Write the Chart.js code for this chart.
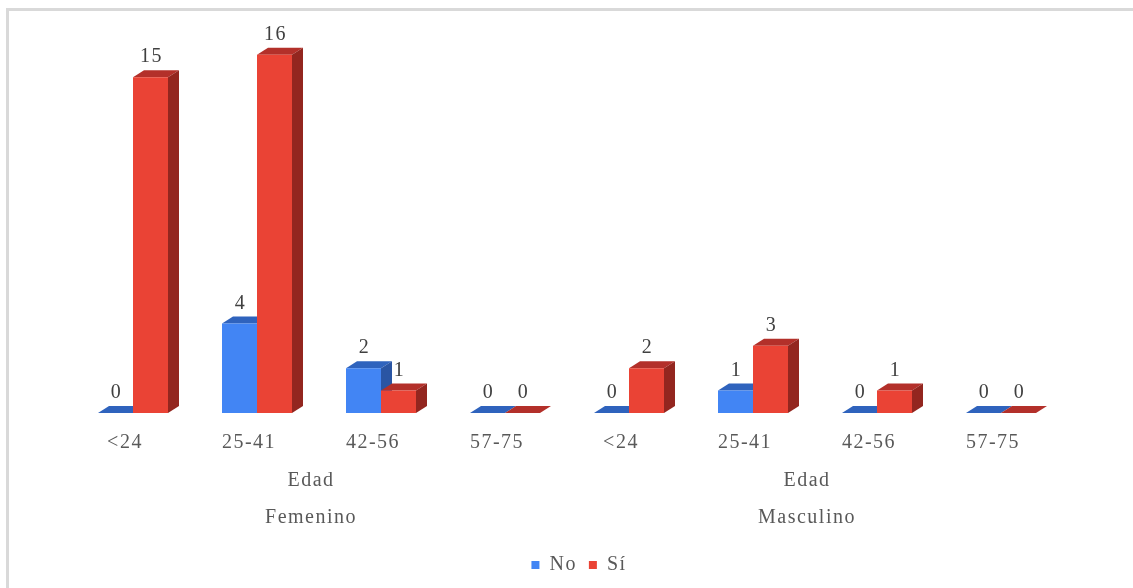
<!DOCTYPE html>
<html>
<head>
<meta charset="utf-8">
<script src="https://cdn.jsdelivr.net/npm/chart.js@4.4.1/dist/chart.umd.min.js"></script>
<style>
  html, body { margin: 0; padding: 0; background: #fff; }
  #wrap { position: relative; width: 1133px; height: 588px; overflow: hidden; }
  #frame { position: absolute; left: 6px; top: 8px; width: 1200px; height: 700px;
           border-left: 3px solid #d9d9d9; border-top: 3px solid #d9d9d9; }
  canvas { position: absolute; left: 0; top: 0; }
</style>
</head>
<body>
<div id="wrap">
  <div id="frame"></div>
  <canvas id="c" width="1133" height="588"></canvas>
</div>
<script>
// Age brackets, repeated for each sex
const ageGroups = ['<24', '25-41', '42-56', '57-75', '<24', '25-41', '42-56', '57-75'];
const sexGroups = ['Femenino', 'Masculino'];
const groupAxisTitle = 'Edad';
const seriesNames = ['No', 'Sí'];
const noValues = [0, 4, 2, 0, 0, 1, 0, 0];
const siValues = [15, 16, 1, 0, 2, 3, 1, 0];

const FONT = "'Liberation Serif', 'Times New Roman', serif";
const FONT_SIZE = 20;
const TEXT = '#595959';
const BASE_Y = 413;          // pixel row of the value 0
const PAD_BOTTOM = 3;
const DX = 11, DY = 7;       // depth offset of the 3D faces
const faceColors = [
  { front: '#4285f4', top: '#2f63bd', side: '#2a55a3' },
  { front: '#ea4335', top: '#b3302a', side: '#93261f' }
];

// Top and side faces of each bar, painted behind the front faces
const bar3d = {
  id: 'bar3d',
  beforeDatasetsDraw(chart) {
    const ctx = chart.ctx;
    const metas = chart.data.datasets.map((d, i) => chart.getDatasetMeta(i));
    const n = chart.data.labels.length;
    ctx.save();
    for (let j = 0; j < n; j++) {
      metas.forEach((m, i) => {
        const { x, y, base, width } = m.data[j].getProps(['x', 'y', 'base', 'width'], true);
        const l = x - width / 2, r = x + width / 2;
        ctx.fillStyle = faceColors[i].top;
        ctx.beginPath();
        ctx.moveTo(l, y); ctx.lineTo(r, y); ctx.lineTo(r + DX, y - DY); ctx.lineTo(l + DX, y - DY);
        ctx.closePath(); ctx.fill();
        ctx.fillStyle = faceColors[i].side;
        ctx.beginPath();
        ctx.moveTo(r, y); ctx.lineTo(r + DX, y - DY); ctx.lineTo(r + DX, base - DY); ctx.lineTo(r, base);
        ctx.closePath(); ctx.fill();
      });
    }
    ctx.restore();
  }
};

// Value labels above each bar
const valueLabels = {
  id: 'valueLabels',
  afterDatasetsDraw(chart) {
    const ctx = chart.ctx;
    ctx.save();
    ctx.font = FONT_SIZE + 'px ' + FONT;
    ctx.fillStyle = '#404040';
    ctx.textAlign = 'center';
    ctx.textBaseline = 'middle';
    chart.data.datasets.forEach((ds, i) => {
      chart.getDatasetMeta(i).data.forEach((el, j) => {
        ctx.fillText(String(ds.data[j]), el.x + 1, el.y - 20);
      });
    });
    ctx.restore();
  }
};

// Second and third level of the category axis: "Edad" and the sex group
const groupTitles = {
  id: 'groupTitles',
  afterDraw(chart) {
    const xs = chart.scales.x;
    const ctx = chart.ctx;
    const per = ageGroups.length / sexGroups.length;
    ctx.save();
    ctx.font = FONT_SIZE + 'px ' + FONT;
    ctx.fillStyle = TEXT;
    ctx.textAlign = 'center';
    ctx.textBaseline = 'middle';
    sexGroups.forEach((g, k) => {
      const cx = (xs.getPixelForValue(k * per) + xs.getPixelForValue(k * per + per - 1)) / 2 - 8;
      ctx.fillText(groupAxisTitle, cx, 481);
      ctx.fillText(g, cx, 518);
    });
    ctx.restore();
  }
};

// Spaced-out lettering and legend placement
const typeSetting = {
  id: 'typeSetting',
  beforeLayout(chart) { chart.ctx.letterSpacing = '1.5px'; },
  beforeDraw(chart) {
    chart.ctx.letterSpacing = '1.5px';
    const lg = chart.legend;
    if (lg && !lg._shifted) { lg.left += 12; lg.right += 12; lg._shifted = true; }
  }
};

new Chart(document.getElementById('c'), {
  type: 'bar',
  data: {
    labels: ageGroups,
    datasets: [
      { label: seriesNames[0], data: noValues, backgroundColor: faceColors[0].front },
      { label: seriesNames[1], data: siValues, backgroundColor: faceColors[1].front }
    ]
  },
  options: {
    responsive: false,
    animation: false,
    devicePixelRatio: 1,
    layout: { padding: { left: 71, right: 70, top: 10, bottom: PAD_BOTTOM } },
    datasets: { bar: { categoryPercentage: 0.5645, barPercentage: 1, borderWidth: 0 } },
    scales: {
      x: {
        grid: { display: false, drawTicks: false },
        border: { display: false },
        ticks: { color: TEXT, font: { family: FONT, size: FONT_SIZE }, padding: 18, labelOffset: -8, maxRotation: 0, autoSkip: false },
        afterFit(s) {
          const lh = s.chart.legend ? s.chart.legend.height : 0;
          s.height = 588 - PAD_BOTTOM - BASE_Y - lh;
        }
      },
      y: { display: false, min: 0, max: 18 }
    },
    plugins: {
      legend: {
        position: 'bottom',
        labels: { boxWidth: 8, boxHeight: 8, padding: 12, color: TEXT, font: { family: FONT, size: FONT_SIZE } }
      },
      tooltip: { enabled: false }
    }
  },
  plugins: [typeSetting, bar3d, valueLabels, groupTitles]
});
</script>
</body>
</html>
